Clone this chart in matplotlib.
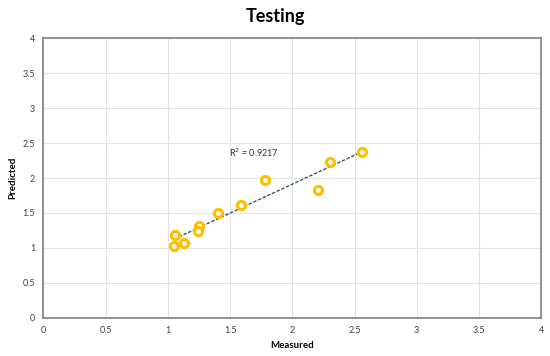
import matplotlib.pyplot as plt
import numpy as np

plt.rcParams['font.family'] = ['Lato', 'DejaVu Sans']

measured = np.array([1.05, 1.06, 1.13, 1.25, 1.24, 1.40, 1.59, 1.78, 2.21, 2.30, 2.56])
predicted = np.array([1.03, 1.19, 1.07, 1.32, 1.24, 1.50, 1.62, 1.97, 1.83, 2.23, 2.37])
ticks = [0, 0.5, 1, 1.5, 2, 2.5, 3, 3.5, 4]
tick_labels = ['0', '0.5', '1', '1.5', '2', '2.5', '3', '3.5', '4']
r2_text = "R$^2$ = 0.9217"

fig = plt.figure(figsize=(5.5, 3.56), dpi=100)
ax = fig.add_axes([0.079, 0.107, 0.905, 0.786])

ax.scatter(measured, predicted, s=34, facecolors='white', edgecolors='#FFC000',
           linewidths=2.3, zorder=3)

# linear trendline over the data range
k, b = np.polyfit(measured, predicted, 1)
xs = np.array([measured.min(), measured.max()])
ax.plot(xs, k * xs + b, color='#3B5670', linestyle=(0, (2.5, 1.2)), linewidth=1, zorder=2)
ax.text(1.69, 2.36, r2_text, fontsize=6.5, ha='center', va='center', color='#333333')

ax.set_xlim(0, 4)
ax.set_ylim(0, 4)
ax.set_xticks(ticks)
ax.set_xticklabels(tick_labels)
ax.set_yticks(ticks)
ax.set_yticklabels(tick_labels)
ax.tick_params(length=0, labelsize=6.5, labelcolor='#404040', pad=6)
ax.grid(True, color='#E3E3E3', linewidth=0.8)
ax.set_axisbelow(True)
for s in ax.spines.values():
    s.set_color('#808080')
    s.set_linewidth(1.2)

ax.set_xlabel("Measured", fontsize=7, fontweight='bold', labelpad=4)
ax.set_ylabel("Predicted", fontsize=7, fontweight='bold', labelpad=4)
fig.text(0.5, 0.955, "Testing", ha='center', va='center', fontsize=13, fontweight='bold')

fig.savefig("out.png", dpi=100)
